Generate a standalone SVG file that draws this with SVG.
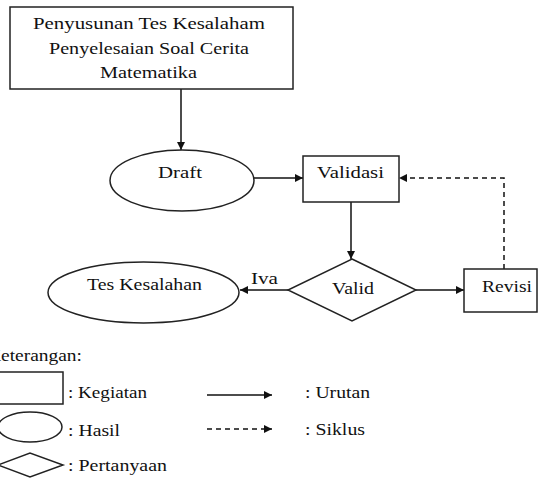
<svg xmlns="http://www.w3.org/2000/svg" width="542" height="478" viewBox="0 0 542 478" font-family="Liberation Serif, serif">
<style>
.sh{fill:#fff;stroke:#222;stroke-width:1.5}
.ln{fill:none;stroke:#111;stroke-width:1.5}
.ds{stroke-dasharray:5 4}
text{font-size:17px;fill:#111}
.c{text-anchor:middle}
.big{font-size:17.5px}
</style>
<defs>
<marker id="ah" viewBox="0 0 10 10" markerUnits="userSpaceOnUse" markerWidth="9" markerHeight="8" refX="10" refY="5" orient="auto">
<path d="M0,0 L10,5 L0,10 z" fill="#111"/>
</marker>
</defs>
<rect width="542" height="478" fill="#fff"/>
<g id="connectors">
<path class="ln" d="M181,89 V150" marker-end="url(#ah)"/>
<path class="ln" d="M254,178 H303" marker-end="url(#ah)"/>
<path class="ln" d="M351,202 V259" marker-end="url(#ah)"/>
<path class="ln" d="M288,290 H240" marker-end="url(#ah)"/>
<path class="ln" d="M416,290 H464" marker-end="url(#ah)"/>
<path class="ln ds" d="M504,269 V178 H399" marker-end="url(#ah)"/>
<text x="251" y="284" textLength="27" lengthAdjust="spacingAndGlyphs">Iva</text>
</g>
<g id="penyusunan">
<rect class="sh" x="10" y="7" width="283" height="82"/>
<text class="c big" x="149" y="29" textLength="232" lengthAdjust="spacingAndGlyphs">Penyusunan Tes Kesalaham</text>
<text class="c big" x="149" y="54" textLength="200" lengthAdjust="spacingAndGlyphs">Penyelesaian Soal Cerita</text>
<text class="c big" x="148.5" y="78" textLength="97" lengthAdjust="spacingAndGlyphs">Matematika</text>
</g>
<g id="draft">
<ellipse class="sh" cx="182" cy="180.5" rx="72" ry="30.5"/>
<text class="c" x="180" y="178" textLength="44" lengthAdjust="spacingAndGlyphs">Draft</text>
</g>
<g id="validasi">
<rect class="sh" x="303" y="156" width="96" height="46"/>
<text class="c" x="350.5" y="178" textLength="67" lengthAdjust="spacingAndGlyphs">Validasi</text>
</g>
<g id="valid">
<polygon class="sh" points="352,259 416,290 352,321 288,290"/>
<text class="c" x="353" y="294" textLength="42" lengthAdjust="spacingAndGlyphs">Valid</text>
</g>
<g id="revisi">
<rect class="sh" x="464" y="269" width="73" height="43"/>
<text class="c" x="507" y="292" textLength="50" lengthAdjust="spacingAndGlyphs">Revisi</text>
</g>
<g id="tes-kesalahan">
<ellipse class="sh" cx="143.5" cy="292.5" rx="95.5" ry="30.5"/>
<text class="c" x="144.5" y="290" textLength="115" lengthAdjust="spacingAndGlyphs">Tes Kesalahan</text>
</g>
<g id="legend">
<text x="-13" y="361" textLength="95" lengthAdjust="spacingAndGlyphs">Keterangan:</text>
<rect class="sh" x="-10" y="372" width="73" height="32"/>
<text x="68" y="398" textLength="79" lengthAdjust="spacingAndGlyphs">: Kegiatan</text>
<ellipse class="sh" cx="30" cy="427" rx="32" ry="15"/>
<text x="68" y="436" textLength="52" lengthAdjust="spacingAndGlyphs">: Hasil</text>
<polygon class="sh" points="-2,465 30,453 63,465 30,477"/>
<text x="68" y="471" textLength="99" lengthAdjust="spacingAndGlyphs">: Pertanyaan</text>
<path class="ln" d="M207,395 H272" marker-end="url(#ah)"/>
<text x="305" y="398" textLength="65" lengthAdjust="spacingAndGlyphs">: Urutan</text>
<path class="ln ds" d="M207,429 H272" marker-end="url(#ah)"/>
<text x="305" y="435" textLength="60" lengthAdjust="spacingAndGlyphs">: Siklus</text>
</g>
</svg>
